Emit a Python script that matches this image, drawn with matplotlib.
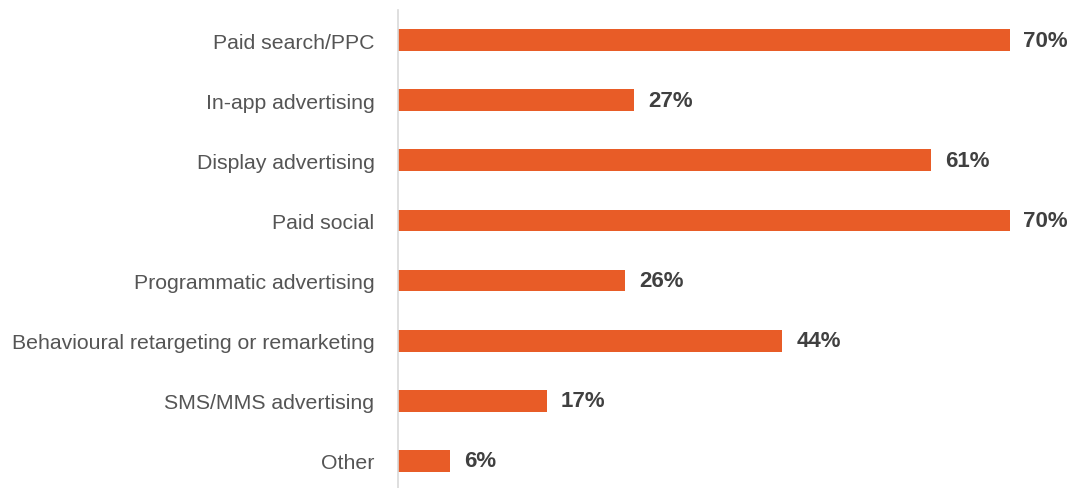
import matplotlib.pyplot as plt

# Share of respondents using each paid channel
channels = [
    "Paid search/PPC",
    "In-app advertising",
    "Display advertising",
    "Paid social",
    "Programmatic advertising",
    "Behavioural retargeting or remarketing",
    "SMS/MMS advertising",
    "Other",
]
shares = [70, 27, 61, 70, 26, 44, 17, 6]

bar_color = "#E85C27"

plt.rcParams["font.family"] = ["Liberation Sans", "DejaVu Sans"]

fig = plt.figure(figsize=(10.74, 4.89), dpi=100)
ax = fig.add_axes([398 / 1074, -3 / 489, 664 / 1074, 481 / 489])

ypos = list(range(len(channels)))
ax.barh(ypos, shares, height=0.36, color=bar_color)

for y, v in zip(ypos, shares):
    ax.annotate(f"{v}%", (v, y), xytext=(10, 0), textcoords="offset points",
                va="center", ha="left", fontsize=16, fontweight="bold",
                color="#404040")

ax.set_yticks(ypos)
ax.set_yticklabels(channels, fontsize=15.3, color="#555555")
ax.tick_params(axis="y", length=0, pad=17)
ax.set_ylim(7.5, -0.5)
ax.set_xlim(0, 76)
ax.set_xticks([])

for side in ["top", "right", "bottom"]:
    ax.spines[side].set_visible(False)
ax.spines["left"].set_color("#d9d9d9")
ax.spines["left"].set_linewidth(1.2)

fig.savefig("out.png", dpi=100)
